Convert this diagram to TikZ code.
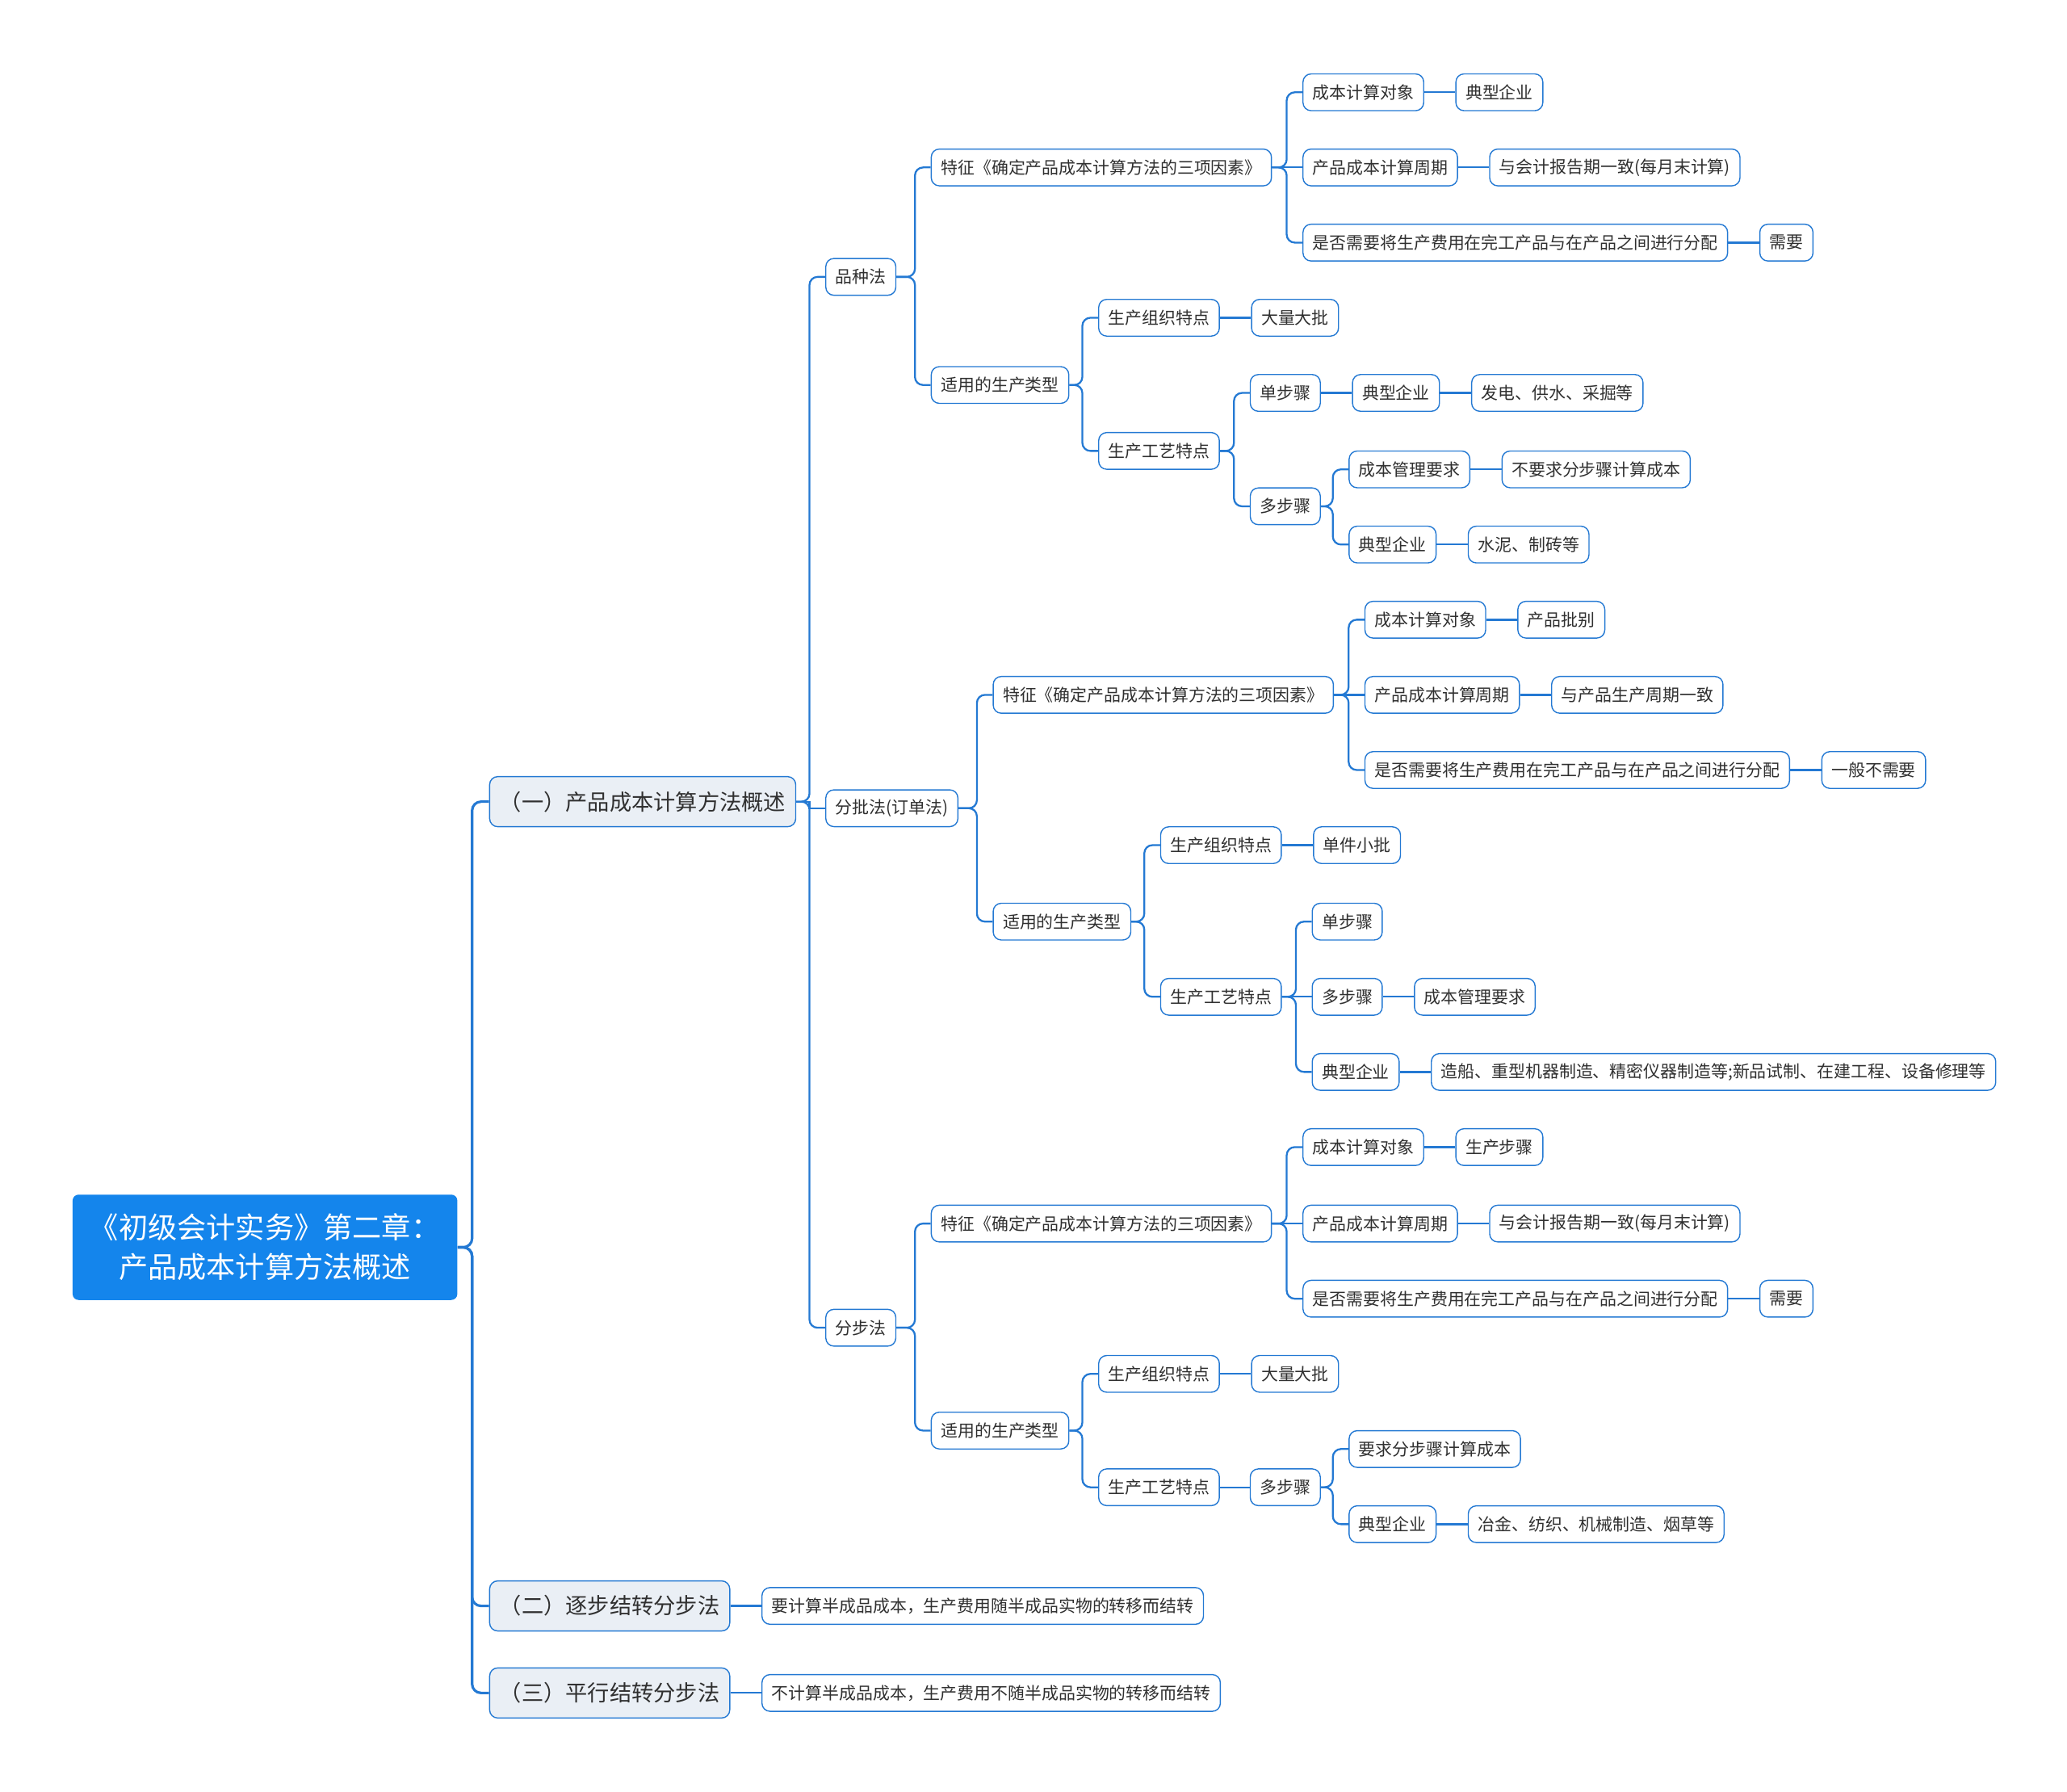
\documentclass[tikz,border=0pt]{standalone}
\usepackage{fontspec}
\setmainfont{Noto Sans CJK SC}
\usepackage{xcolor}
\usepackage{tikz}
\usetikzlibrary{positioning}
\definecolor{mapblue}{HTML}{2479D3}
\definecolor{rootblue}{HTML}{1485EC}
\definecolor{topicfill}{HTML}{EAEFF5}
\definecolor{inkgray}{HTML}{303030}
\tikzset{
  rootbox/.style={fill=rootblue, rounded corners=0.15cm, align=center, text=white, minimum width=9.53cm, minimum height=2.61cm, font=\fontsize{20.6}{28}\selectfont},
  topic/.style={draw=mapblue, line width=0.8pt, fill=topicfill, rounded corners=0.2cm, minimum height=1.24cm, inner xsep=0.25cm, inner ysep=0pt, text=inkgray, font=\fontsize{15.5}{18}\selectfont},
  item/.style={draw=mapblue, line width=0.8pt, fill=white, rounded corners=0.2cm, minimum height=0.91cm, inner xsep=0.24cm, inner ysep=0pt, text=inkgray, font=\fontsize{11.9}{14}\selectfont},
  link/.style={draw=mapblue, line width=1.3pt, rounded corners=0.2cm},
  trunk/.style={draw=mapblue, line width=1.8pt, rounded corners=0.22cm}
}
\begin{document}
\begin{tikzpicture}[x=0.03265cm, y=-0.03265cm, node distance=0.77cm]
  \useasboundingbox (0,0) rectangle (1568,1359);
  \node[rootbox] (root) at (201,946) {《初级会计实务》第二章：\\产品成本计算方法概述};
  \node[topic, anchor=west] (t1) at (371,608) {（一）产品成本计算方法概述};
  \node[topic, anchor=west] (t2) at (371,1218) {（二）逐步结转分步法};
  \node[topic, anchor=west] (t3) at (371,1284) {（三）平行结转分步法};
  \node[item, right=of t2] (t2-sm) {要计算半成品成本，生产费用随半成品实物的转移而结转};
  \node[item, right=of t3] (t3-sm) {不计算半成品成本，生产费用不随半成品实物的转移而结转};

  \node[item, anchor=west] (pz) at (626,210) {品种法};
  \node[item, anchor=west] (pz-tz) at (706,127) {特征《确定产品成本计算方法的三项因素》};
  \node[item, anchor=west] (pz-dx) at (988,70) {成本计算对象};
  \node[item, right=of pz-dx] (pz-dxv) {典型企业};
  \node[item, anchor=west] (pz-zq) at (988,127) {产品成本计算周期};
  \node[item, right=of pz-zq] (pz-zqv) {与会计报告期一致(每月末计算)};
  \node[item, anchor=west] (pz-fp) at (988,184) {是否需要将生产费用在完工产品与在产品之间进行分配};
  \node[item, right=of pz-fp] (pz-fpv) {需要};
  \node[item, anchor=west] (pz-lx) at (706,292) {适用的生产类型};
  \node[item, anchor=west] (pz-zz) at (833,241) {生产组织特点};
  \node[item, right=of pz-zz] (pz-zzv) {大量大批};
  \node[item, anchor=west] (pz-gy) at (833,342) {生产工艺特点};
  \node[item, anchor=west] (pz-dan) at (948,298) {单步骤};
  \node[item, right=of pz-dan] (pz-danqy) {典型企业};
  \node[item, right=of pz-danqy] (pz-danv) {发电、供水、采掘等};
  \node[item, anchor=west] (pz-duo) at (948,384) {多步骤};
  \node[item, anchor=west] (pz-gl) at (1023,356) {成本管理要求};
  \node[item, right=of pz-gl] (pz-glv) {不要求分步骤计算成本};
  \node[item, anchor=west] (pz-qy) at (1023,413) {典型企业};
  \node[item, right=of pz-qy] (pz-qyv) {水泥、制砖等};

  \node[item, anchor=west] (pp) at (626,613) {分批法(订单法)};
  \node[item, anchor=west] (pp-tz) at (753,527) {特征《确定产品成本计算方法的三项因素》};
  \node[item, anchor=west] (pp-dx) at (1035,470) {成本计算对象};
  \node[item, right=of pp-dx] (pp-dxv) {产品批别};
  \node[item, anchor=west] (pp-zq) at (1035,527) {产品成本计算周期};
  \node[item, right=of pp-zq] (pp-zqv) {与产品生产周期一致};
  \node[item, anchor=west] (pp-fp) at (1035,584) {是否需要将生产费用在完工产品与在产品之间进行分配};
  \node[item, right=of pp-fp] (pp-fpv) {一般不需要};
  \node[item, anchor=west] (pp-lx) at (753,699) {适用的生产类型};
  \node[item, anchor=west] (pp-zz) at (880,641) {生产组织特点};
  \node[item, right=of pp-zz] (pp-zzv) {单件小批};
  \node[item, anchor=west] (pp-gy) at (880,756) {生产工艺特点};
  \node[item, anchor=west] (pp-dan) at (995,699) {单步骤};
  \node[item, anchor=west] (pp-duo) at (995,756) {多步骤};
  \node[item, right=of pp-duo] (pp-duov) {成本管理要求};
  \node[item, anchor=west] (pp-qy) at (995,813) {典型企业};
  \node[item, right=of pp-qy] (pp-qyv) {造船、重型机器制造、精密仪器制造等;新品试制、在建工程、设备修理等};

  \node[item, anchor=west] (fb) at (626,1007) {分步法};
  \node[item, anchor=west] (fb-tz) at (706,928) {特征《确定产品成本计算方法的三项因素》};
  \node[item, anchor=west] (fb-dx) at (988,870) {成本计算对象};
  \node[item, right=of fb-dx] (fb-dxv) {生产步骤};
  \node[item, anchor=west] (fb-zq) at (988,928) {产品成本计算周期};
  \node[item, right=of fb-zq] (fb-zqv) {与会计报告期一致(每月末计算)};
  \node[item, anchor=west] (fb-fp) at (988,985) {是否需要将生产费用在完工产品与在产品之间进行分配};
  \node[item, right=of fb-fp] (fb-fpv) {需要};
  \node[item, anchor=west] (fb-lx) at (706,1085) {适用的生产类型};
  \node[item, anchor=west] (fb-zz) at (833,1042) {生产组织特点};
  \node[item, right=of fb-zz] (fb-zzv) {大量大批};
  \node[item, anchor=west] (fb-gy) at (833,1128) {生产工艺特点};
  \node[item, anchor=west] (fb-duo) at (948,1128) {多步骤};
  \node[item, anchor=west] (fb-yq) at (1023,1099) {要求分步骤计算成本};
  \node[item, anchor=west] (fb-qy) at (1023,1156) {典型企业};
  \node[item, right=of fb-qy] (fb-qyv) {冶金、纺织、机械制造、烟草等};

  \foreach \p/\c in {root/t1, root/t2, root/t3}
    \draw[trunk] (\p.east) -| ([xshift=-0.42cm]\c.west) -- (\c.west);
  \foreach \p/\c in {t1/pz, t1/fb,
      pz/pz-tz, pz/pz-lx, pz-tz/pz-dx, pz-tz/pz-fp,
      pz-lx/pz-zz, pz-lx/pz-gy, pz-gy/pz-dan, pz-gy/pz-duo, pz-duo/pz-gl, pz-duo/pz-qy,
      pp/pp-tz, pp/pp-lx, pp-tz/pp-dx, pp-tz/pp-fp,
      pp-lx/pp-zz, pp-lx/pp-gy, pp-gy/pp-dan, pp-gy/pp-qy,
      fb/fb-tz, fb/fb-lx, fb-tz/fb-dx, fb-tz/fb-fp,
      fb-lx/fb-zz, fb-lx/fb-gy, fb-duo/fb-yq, fb-duo/fb-qy}
    \draw[link] (\p.east) -| ([xshift=-0.39cm]\c.west) -- (\c.west);
  \draw[link, sharp corners] (t1.east) -| ([xshift=-0.39cm]pp.west) -- (pp.west);
  \foreach \p/\c in {t2/t2-sm, t3/t3-sm,
      pz-dx/pz-dxv, pz-tz/pz-zq, pz-zq/pz-zqv, pz-fp/pz-fpv, pz-zz/pz-zzv,
      pz-dan/pz-danqy, pz-danqy/pz-danv, pz-gl/pz-glv, pz-qy/pz-qyv,
      pp-dx/pp-dxv, pp-tz/pp-zq, pp-zq/pp-zqv, pp-fp/pp-fpv, pp-zz/pp-zzv,
      pp-gy/pp-duo, pp-duo/pp-duov, pp-qy/pp-qyv,
      fb-dx/fb-dxv, fb-tz/fb-zq, fb-zq/fb-zqv, fb-fp/fb-fpv, fb-zz/fb-zzv,
      fb-gy/fb-duo, fb-qy/fb-qyv}
    \draw[link] (\p.east) -- (\c.west);
\end{tikzpicture}
\end{document}
